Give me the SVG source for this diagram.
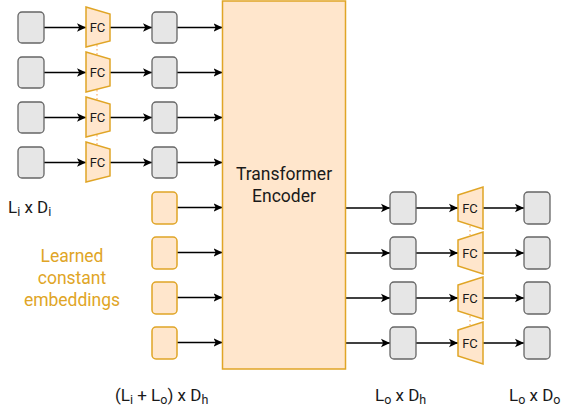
<svg xmlns="http://www.w3.org/2000/svg" width="566" height="412" viewBox="0 0 566 412">
<defs>
<marker id="ah" markerWidth="10" markerHeight="10" viewBox="0 0 10 10" refX="9" refY="5" orient="auto" markerUnits="userSpaceOnUse">
<path d="M0,0.8 L9,5 L0,9.2 L2.2,5 Z" fill="#000"/>
</marker>
<style>
.g{fill:#e6e6e6;stroke:#666666;stroke-width:1.3}
.o{fill:#ffe6cc;stroke:#e0a526;stroke-width:1.5}
.fc{fill:#ffe6cc;stroke:#e0a526;stroke-width:1.5}
.c{stroke:#000;stroke-width:1.3;fill:none;marker-end:url(#ah)}
.d{stroke:#ffb570;stroke-width:1.3;stroke-dasharray:1.5 2.5;fill:none}
text{font-family:Roboto,"Liberation Sans",sans-serif;fill:#1a1a1a}
.ft{font-size:13px;text-anchor:middle}
.lb{font-size:17px}
.gold{fill:#e0a526;font-size:17.5px;text-anchor:middle}
</style>
</defs>
<g id="connectors">
<line class="c" x1="44" y1="27.5" x2="86" y2="27.5"/>
<line class="c" x1="44" y1="72.5" x2="86" y2="72.5"/>
<line class="c" x1="44" y1="117.5" x2="86" y2="117.5"/>
<line class="c" x1="44" y1="162.5" x2="86" y2="162.5"/>
<line class="c" x1="110" y1="27.5" x2="152" y2="27.5"/>
<line class="c" x1="110" y1="72.5" x2="152" y2="72.5"/>
<line class="c" x1="110" y1="117.5" x2="152" y2="117.5"/>
<line class="c" x1="110" y1="162.5" x2="152" y2="162.5"/>
<line class="c" x1="177" y1="27.5" x2="222.5" y2="27.5"/>
<line class="c" x1="177" y1="72.5" x2="222.5" y2="72.5"/>
<line class="c" x1="177" y1="117.5" x2="222.5" y2="117.5"/>
<line class="c" x1="177" y1="162.5" x2="222.5" y2="162.5"/>
<line class="c" x1="177" y1="207.5" x2="222.5" y2="207.5"/>
<line class="c" x1="177" y1="252.5" x2="222.5" y2="252.5"/>
<line class="c" x1="177" y1="297.5" x2="222.5" y2="297.5"/>
<line class="c" x1="177" y1="342.5" x2="222.5" y2="342.5"/>
<line class="c" x1="345.5" y1="208" x2="390" y2="208"/>
<line class="c" x1="345.5" y1="253" x2="390" y2="253"/>
<line class="c" x1="345.5" y1="298" x2="390" y2="298"/>
<line class="c" x1="345.5" y1="343" x2="390" y2="343"/>
<line class="c" x1="416" y1="208" x2="458" y2="208"/>
<line class="c" x1="416" y1="253" x2="458" y2="253"/>
<line class="c" x1="416" y1="298" x2="458" y2="298"/>
<line class="c" x1="416" y1="343" x2="458" y2="343"/>
<line class="c" x1="483" y1="208" x2="524" y2="208"/>
<line class="c" x1="483" y1="253" x2="524" y2="253"/>
<line class="c" x1="483" y1="298" x2="524" y2="298"/>
<line class="c" x1="483" y1="343" x2="524" y2="343"/>
<line class="d" x1="97" y1="45" x2="97" y2="55"/>
<line class="d" x1="97" y1="90" x2="97" y2="100"/>
<line class="d" x1="97" y1="135" x2="97" y2="145"/>
<line class="d" x1="470" y1="226" x2="470" y2="235"/>
<line class="d" x1="470" y1="316" x2="470" y2="325"/>
</g>
<g id="in1"><rect class="g" x="18" y="12" width="26" height="31" rx="4"/></g>
<g id="in2"><rect class="g" x="18" y="57" width="26" height="31" rx="4"/></g>
<g id="in3"><rect class="g" x="18" y="102" width="26" height="31" rx="4"/></g>
<g id="in4"><rect class="g" x="18" y="147" width="26" height="31" rx="4"/></g>
<g id="fcL1"><polygon class="fc" points="86,7 110,14 110,41 86,47"/><text class="ft" x="97.5" y="32">FC</text></g>
<g id="fcL2"><polygon class="fc" points="86,52 110,59 110,86 86,92"/><text class="ft" x="97.5" y="77">FC</text></g>
<g id="fcL3"><polygon class="fc" points="86,97 110,104 110,131 86,137"/><text class="ft" x="97.5" y="122">FC</text></g>
<g id="fcL4"><polygon class="fc" points="86,142 110,149 110,176 86,182"/><text class="ft" x="97.5" y="167">FC</text></g>
<g id="h1"><rect class="g" x="152" y="12" width="25" height="31" rx="4"/></g>
<g id="h2"><rect class="g" x="152" y="57" width="25" height="31" rx="4"/></g>
<g id="h3"><rect class="g" x="152" y="102" width="25" height="31" rx="4"/></g>
<g id="h4"><rect class="g" x="152" y="147" width="25" height="31" rx="4"/></g>
<g id="e1"><rect class="o" x="152" y="192" width="25" height="32" rx="4"/></g>
<g id="e2"><rect class="o" x="152" y="237" width="25" height="32" rx="4"/></g>
<g id="e3"><rect class="o" x="152" y="282" width="25" height="32" rx="4"/></g>
<g id="e4"><rect class="o" x="152" y="327" width="25" height="32" rx="4"/></g>
<g id="transformer"><rect class="o" x="222.5" y="1" width="123" height="368"/>
<text x="284" y="180" style="font-size:17.5px;text-anchor:middle">Transformer</text>
<text x="284" y="202" style="font-size:17.5px;text-anchor:middle">Encoder</text></g>
<g id="o1"><rect class="g" x="390" y="192" width="26" height="32" rx="4"/></g>
<g id="o2"><rect class="g" x="390" y="237" width="26" height="32" rx="4"/></g>
<g id="o3"><rect class="g" x="390" y="282" width="26" height="32" rx="4"/></g>
<g id="o4"><rect class="g" x="390" y="327" width="26" height="32" rx="4"/></g>
<g id="fcR1"><polygon class="fc" points="458,195 483,187 483,229 458,221"/><text class="ft" x="470" y="212.5">FC</text></g>
<g id="fcR2"><polygon class="fc" points="458,240 483,232 483,274 458,266"/><text class="ft" x="470" y="257.5">FC</text></g>
<g id="fcR3"><polygon class="fc" points="458,285 483,277 483,319 458,311"/><text class="ft" x="470" y="302.5">FC</text></g>
<g id="fcR4"><polygon class="fc" points="458,330 483,322 483,364 458,356"/><text class="ft" x="470" y="347.5">FC</text></g>
<g id="y1"><rect class="g" x="524" y="192" width="26" height="32" rx="4"/></g>
<g id="y2"><rect class="g" x="524" y="237" width="26" height="32" rx="4"/></g>
<g id="y3"><rect class="g" x="524" y="282" width="26" height="32" rx="4"/></g>
<g id="y4"><rect class="g" x="524" y="327" width="26" height="32" rx="4"/></g>
<g id="labels">
<text class="lb" x="8" y="213">L<tspan font-size="12.5" dy="3">i</tspan><tspan dy="-3"> x D</tspan><tspan font-size="12.5" dy="3">i</tspan></text>
<text class="gold" x="72" y="261.5">Learned</text>
<text class="gold" x="72" y="283.5">constant</text>
<text class="gold" x="72" y="305.5">embeddings</text>
<text class="lb" x="115" y="401">(L<tspan font-size="12.5" dy="3">i</tspan><tspan dy="-3"> + L</tspan><tspan font-size="12.5" dy="3">o</tspan><tspan dy="-3">) x D</tspan><tspan font-size="12.5" dy="3">h</tspan></text>
<text class="lb" x="375" y="401">L<tspan font-size="12.5" dy="3">o</tspan><tspan dy="-3"> x D</tspan><tspan font-size="12.5" dy="3">h</tspan></text>
<text class="lb" x="509" y="401">L<tspan font-size="12.5" dy="3">o</tspan><tspan dy="-3"> x D</tspan><tspan font-size="12.5" dy="3">o</tspan></text>
</g>
</svg>
